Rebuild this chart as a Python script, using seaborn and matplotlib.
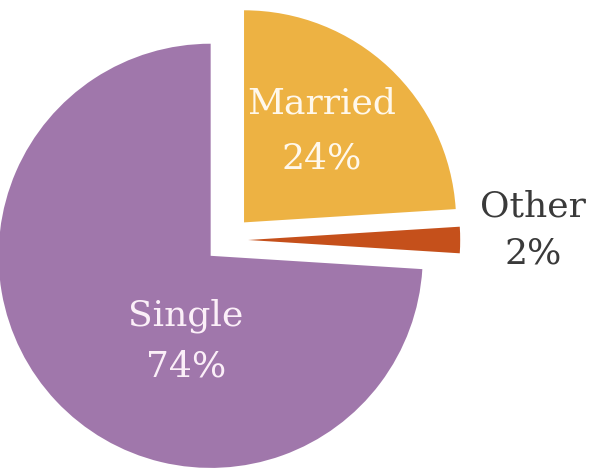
import matplotlib
matplotlib.use("Agg")
import matplotlib.pyplot as plt
import seaborn as sns

# data
categorias = ['Married', 'Other', 'Single']
porcentajes = [24, 2, 74]
etiquetas = ['Married\n24%', 'Other\n2%', 'Single\n74%']

colores = ['#EDB243', '#C5501B', '#A077AB']
separacion = [0.115, 0.098, 0.11]

sns.set_theme(style="white")
plt.rcParams['font.family'] = ['DejaVu Serif']

fig, ax = plt.subplots(figsize=(5.92, 4.72), dpi=100)
ax.set_position([0, 0, 1, 1])

wedges, _ = ax.pie(porcentajes, colors=colores, explode=separacion,
                   startangle=90, counterclock=False, radius=1.01,
                   wedgeprops=dict(linewidth=0))

# etiquetas
ax.text(0.45, 0.52, etiquetas[0], ha='center', va='center', fontsize=26,
        color='#FFF8EC', linespacing=1.8)
ax.text(-0.198, -0.48, etiquetas[2], ha='center', va='center', fontsize=26,
        color='#FBEFF8', linespacing=1.6)
ax.text(1.455, 0.048, etiquetas[1], ha='center', va='center', fontsize=26,
        color='#3A3A3A', linespacing=1.5)

ax.set_xlim(-227.5 / 210, (592 - 227.5) / 210)
ax.set_ylim(-(472 - 240) / 210, 240 / 210)
ax.set_aspect('equal')
ax.axis('off')

plt.savefig("out.png", dpi=100)
